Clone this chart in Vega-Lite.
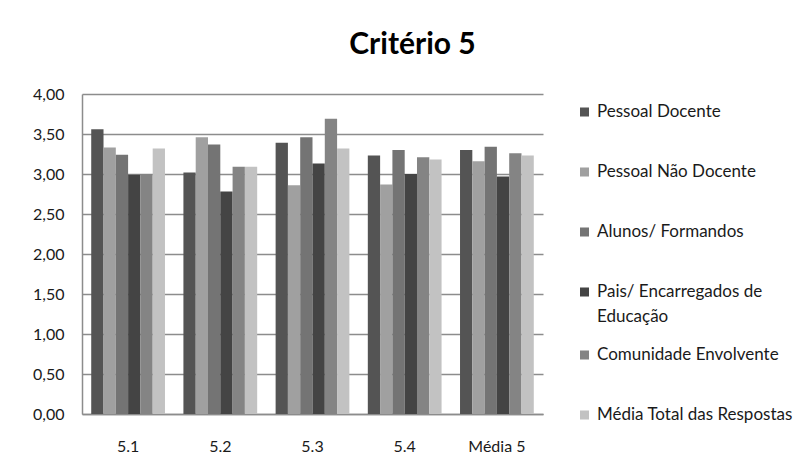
{
  "$schema": "https://vega.github.io/schema/vega-lite/v6.json",
  "width": 461,
  "height": 320,
  "autosize": {"type": "none"},
  "padding": {"left": 82, "top": 94, "right": 263, "bottom": 58},
  "background": "white",
  "title": {
    "text": "Critério 5",
    "font": "Lato",
    "fontSize": 30,
    "fontWeight": "bold",
    "color": "#000000",
    "anchor": "middle",
    "dx": 100,
    "offset": 22
  },
  "data": {
    "values": [
      {"questao": "5.1", "grupo": "Pessoal Docente", "media": 3.56},
      {"questao": "5.1", "grupo": "Pessoal Não Docente", "media": 3.33},
      {"questao": "5.1", "grupo": "Alunos/ Formandos", "media": 3.24},
      {"questao": "5.1", "grupo": "Pais/ Encarregados de Educação", "media": 2.99},
      {"questao": "5.1", "grupo": "Comunidade Envolvente", "media": 3.0},
      {"questao": "5.1", "grupo": "Média Total das Respostas", "media": 3.32},
      {"questao": "5.2", "grupo": "Pessoal Docente", "media": 3.02},
      {"questao": "5.2", "grupo": "Pessoal Não Docente", "media": 3.46},
      {"questao": "5.2", "grupo": "Alunos/ Formandos", "media": 3.37},
      {"questao": "5.2", "grupo": "Pais/ Encarregados de Educação", "media": 2.78},
      {"questao": "5.2", "grupo": "Comunidade Envolvente", "media": 3.09},
      {"questao": "5.2", "grupo": "Média Total das Respostas", "media": 3.09},
      {"questao": "5.3", "grupo": "Pessoal Docente", "media": 3.39},
      {"questao": "5.3", "grupo": "Pessoal Não Docente", "media": 2.86},
      {"questao": "5.3", "grupo": "Alunos/ Formandos", "media": 3.46},
      {"questao": "5.3", "grupo": "Pais/ Encarregados de Educação", "media": 3.13},
      {"questao": "5.3", "grupo": "Comunidade Envolvente", "media": 3.69},
      {"questao": "5.3", "grupo": "Média Total das Respostas", "media": 3.32},
      {"questao": "5.4", "grupo": "Pessoal Docente", "media": 3.23},
      {"questao": "5.4", "grupo": "Pessoal Não Docente", "media": 2.87},
      {"questao": "5.4", "grupo": "Alunos/ Formandos", "media": 3.3},
      {"questao": "5.4", "grupo": "Pais/ Encarregados de Educação", "media": 3.0},
      {"questao": "5.4", "grupo": "Comunidade Envolvente", "media": 3.21},
      {"questao": "5.4", "grupo": "Média Total das Respostas", "media": 3.18},
      {"questao": "Média 5", "grupo": "Pessoal Docente", "media": 3.3},
      {"questao": "Média 5", "grupo": "Pessoal Não Docente", "media": 3.16},
      {"questao": "Média 5", "grupo": "Alunos/ Formandos", "media": 3.34},
      {"questao": "Média 5", "grupo": "Pais/ Encarregados de Educação", "media": 2.97},
      {"questao": "Média 5", "grupo": "Comunidade Envolvente", "media": 3.26},
      {"questao": "Média 5", "grupo": "Média Total das Respostas", "media": 3.23}
    ]
  },
  "mark": {"type": "bar"},
  "encoding": {
    "x": {
      "field": "questao",
      "type": "nominal",
      "sort": ["5.1", "5.2", "5.3", "5.4", "Média 5"],
      "scale": {"paddingInner": 0.2, "paddingOuter": 0.1},
      "axis": {
        "title": null,
        "labelAngle": 0,
        "labelFont": "Lato",
        "labelFontSize": 16,
        "labelColor": "#1a1a1a",
        "labelPadding": 24,
        "ticks": false,
        "domainColor": "#8c8c8c",
        "domainWidth": 1.5
      }
    },
    "xOffset": {
      "field": "grupo",
      "type": "nominal",
      "sort": ["Pessoal Docente", "Pessoal Não Docente", "Alunos/ Formandos", "Pais/ Encarregados de Educação", "Comunidade Envolvente", "Média Total das Respostas"],
      "scale": {"paddingInner": 0, "paddingOuter": 0}
    },
    "y": {
      "field": "media",
      "type": "quantitative",
      "scale": {"domain": [0, 4], "nice": false},
      "axis": {
        "title": null,
        "values": [0, 0.5, 1, 1.5, 2, 2.5, 3, 3.5, 4],
        "labelExpr": "replace(format(datum.value, '.2f'), '.', ',')",
        "labelFont": "Lato",
        "labelFontSize": 16,
        "labelColor": "#1a1a1a",
        "labelPadding": 18,
        "ticks": false,
        "domainColor": "#8c8c8c",
        "domainWidth": 1.5,
        "grid": true,
        "gridColor": "#8c8c8c",
        "gridWidth": 1.5
      }
    },
    "color": {
      "field": "grupo",
      "type": "nominal",
      "scale": {
        "domain": ["Pessoal Docente", "Pessoal Não Docente", "Alunos/ Formandos", "Pais/ Encarregados de Educação", "Comunidade Envolvente", "Média Total das Respostas"],
        "range": ["#545454", "#a0a0a0", "#747474", "#444444", "#848484", "#c2c2c2"]
      },
      "legend": {
        "title": null,
        "orient": "none",
        "legendX": 494,
        "legendY": -12,
        "padding": 0,
        "clipHeight": 60,
        "rowPadding": 0,
        "symbolType": "square",
        "symbolSize": 81,
        "symbolStrokeWidth": 0,
        "labelOffset": 4,
        "labelFont": "Lato",
        "labelFontSize": 17,
        "labelColor": "#1a1a1a",
        "labelLimit": 300,
        "labelExpr": "datum.label == 'Pais/ Encarregados de Educação' ? ['Pais/ Encarregados de', 'Educação'] : datum.label"
      }
    }
  },
  "config": {
    "view": {"stroke": null},
    "style": {"guide-label": {"lineHeight": 25}}
  }
}
